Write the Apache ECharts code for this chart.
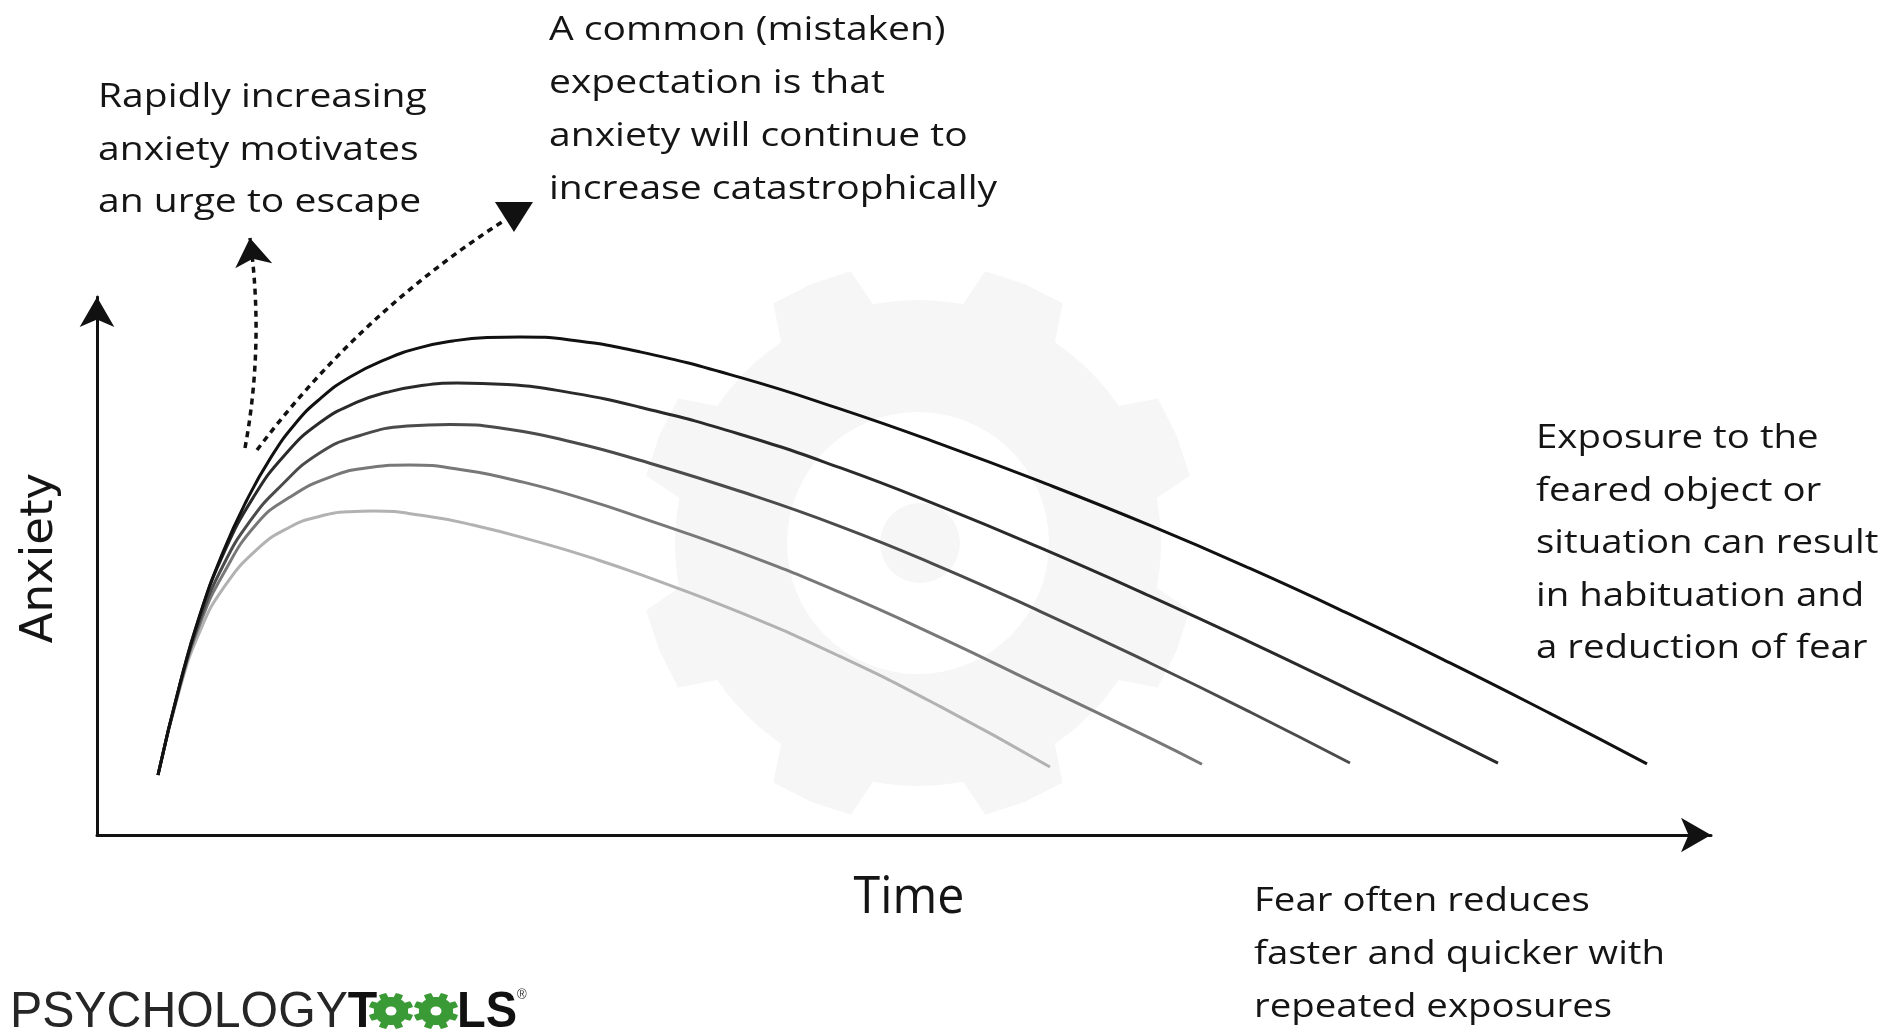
<!DOCTYPE html>
<html>
<head>
<meta charset="utf-8">
<script src="https://cdn.jsdelivr.net/npm/echarts@6/dist/echarts.min.js"></script>
<style>
html,body{margin:0;padding:0;background:#ffffff;}
#chart{width:1903px;height:1034px;}
</style>
</head>
<body>
<div id="chart"></div>
<script>
// ---- Data: [time, anxiety] (arbitrary units) ----
const exposure1 = [[3.8125,11.43],[5.1875,28.82],[6.4375,41.96],[7.875,53.89],[9.375,63.85],[10.8125,71.64],[12.375,78.30],[13.9375,83.07],[15.8125,87.24],[18.125,90.69],[20.1875,92.84],[22.25,94.10],[24.375,94.74],[26.4375,94.86],[29.5625,94.29],[33.9375,92.02],[40.1875,87.16],[46.4375,81.16],[52.6875,74.50],[58.9375,67.35],[65.8125,58.97],[72.0625,50.78],[78.3125,42.02],[84.5625,32.78],[90.8125,23.16],[96.875,13.56]];
const exposure2 = [[3.8125,11.43],[5.1875,28.82],[6.4375,41.96],[7.875,53.35],[9.75,64.21],[11.75,72.44],[13.9375,78.57],[16.25,82.44],[18.125,84.32],[20.1875,85.58],[22.5,86.08],[25.625,85.79],[29.75,84.17],[33.9375,81.49],[40.1875,76.34],[46.4375,69.96],[52.6875,62.63],[58.9375,54.72],[65.8125,45.50],[72.0625,36.74],[78.3125,27.60],[84.5625,18.27],[87.5625,13.70]];
const exposure3 = [[3.8125,11.43],[5.1875,28.61],[6.4375,40.99],[7.875,51.29],[9.5625,59.77],[11.4375,66.34],[13.9375,72.82],[16.4375,76.10],[19.375,77.89],[22.0625,78.21],[25.625,77.33],[29.75,74.82],[33.9375,71.37],[40.1875,65.47],[46.4375,58.80],[52.6875,51.09],[58.9375,42.61],[65.8125,32.76],[72.0625,23.43],[78.3125,13.71]];
const exposure4 = [[3.8125,11.43],[5.1875,28.40],[6.4375,40.21],[7.875,49.63],[10.0,59.34],[12.0625,64.37],[14.5625,68.18],[17.0625,70.01],[19.5625,70.47],[22.6875,69.61],[26.625,67.21],[30.8125,63.64],[33.9375,60.49],[40.1875,53.83],[46.4375,46.21],[52.6875,37.64],[58.9375,28.49],[65.8125,18.44],[69.0625,13.48]];
const exposure5 = [[3.8125,11.43],[5.1875,27.98],[6.4375,38.84],[7.875,46.94],[10.0,54.39],[12.0625,58.66],[13.9375,60.72],[15.8125,61.58],[17.25,61.71],[20.375,60.85],[23.5,59.04],[27.6875,55.73],[30.8125,52.87],[33.9375,49.63],[40.1875,42.39],[46.4375,34.01],[52.6875,24.49],[59.5625,12.96]];
const exposureSeries = [exposure1, exposure2, exposure3, exposure4, exposure5];
const exposureColors = ['#111111', '#2a2a2a', '#4b4b4b', '#787878', '#b2b2b2'];
const timeMax = 100.875;
const anxietyMax = 102.476;

// dashed annotation arrows (start / end in data units)
const escapeArrow = [[9.25, 73.71], [9.56, 113.71]];
const catastropheArrow = [[10.0, 73.33], [25.5, 117.14]];
const catastropheHead = [[26.06, 117.71]];

// text blocks
const escapeText = ['Rapidly increasing', 'anxiety motivates', 'an urge to escape'];
const mistakenText = ['A common (mistaken)', 'expectation is that', 'anxiety will continue to', 'increase catastrophically'];
const exposureText = ['Exposure to the', 'feared object or', 'situation can result', 'in habituation and', 'a reduction of fear'];
const repeatText = ['Fear often reduces', 'faster and quicker with', 'repeated exposures'];
const xAxisName = 'Time';
const yAxisName = 'Anxiety';

// ---- gear geometry (decoration) ----
function gearPoints(cx, cy, ro, rr, teeth, hwRoot, hwTip) {
  const pts = [];
  const step = 2 * Math.PI / teeth;
  for (let k = 0; k < teeth; k++) {
    const c = -Math.PI / 2 + step / 2 + k * step;
    pts.push([cx + rr * Math.cos(c - hwRoot), cy + rr * Math.sin(c - hwRoot)]);
    pts.push([cx + ro * Math.cos(c - hwTip), cy + ro * Math.sin(c - hwTip)]);
    pts.push([cx + ro * Math.cos(c), cy + ro * Math.sin(c)]);
    pts.push([cx + ro * Math.cos(c + hwTip), cy + ro * Math.sin(c + hwTip)]);
    pts.push([cx + rr * Math.cos(c + hwRoot), cy + rr * Math.sin(c + hwRoot)]);
    for (let j = 1; j <= 5; j++) {
      const a = c + hwRoot + j * (step - 2 * hwRoot) / 6;
      pts.push([cx + rr * Math.cos(a), cy + rr * Math.sin(a)]);
    }
  }
  return pts;
}

const textFont = '500 32px "Open Sans"';
const textColor = '#151515';
function block(lines, x, yTop, lh, sx) {
  return {
    type: 'text', x: x, y: yTop, scaleX: sx, z: 20, silent: true,
    style: { text: lines.join('\n'), x: 0, y: 0, font: textFont, fill: textColor,
             lineHeight: lh, align: 'left', verticalAlign: 'top' }
  };
}
function logoGear(cx) {
  return [
    { type: 'polygon', x: cx, y: 1011, scaleX: 1.22, z: 20, silent: true,
      shape: { points: gearPoints(0, 0, 18.5, 14, 8, 0.24, 0.17) }, style: { fill: '#3a9a36' } },
    { type: 'circle', x: cx, y: 1011, scaleX: 1.22, z: 21, silent: true,
      shape: { cx: 0, cy: 0, r: 4.5 }, style: { fill: '#ffffff' } }
  ];
}

const chart = echarts.init(document.getElementById('chart'), null, { renderer: 'canvas' });

const series = [];
for (let i = exposureSeries.length - 1; i >= 0; i--) {
  series.push({
    type: 'line', data: exposureSeries[i], showSymbol: false, smooth: 0.5,
    z: 5 + (5 - i), silent: true,
    lineStyle: { color: exposureColors[i], width: 3 }
  });
}
series.push({
  type: 'lines', coordinateSystem: 'cartesian2d', clip: false, z: 12, silent: true,
  symbol: ['none', 'arrow'], symbolSize: 28,
  lineStyle: { color: '#111', width: 3.5, type: [6, 5], curveness: -0.08, opacity: 1 },
  data: [{ coords: escapeArrow }]
});
series.push({
  type: 'lines', coordinateSystem: 'cartesian2d', clip: false, z: 12, silent: true,
  symbol: 'none',
  lineStyle: { color: '#111', width: 3.5, type: [6, 5], curveness: 0.09, opacity: 1 },
  data: [{ coords: catastropheArrow }]
});
series.push({
  type: 'scatter', data: catastropheHead, clip: false, z: 12, silent: true,
  symbol: 'triangle', symbolRotate: 180, symbolSize: [38, 30],
  itemStyle: { color: '#111', opacity: 1 }
});

const option = {
  backgroundColor: '#ffffff',
  animation: false,
  grid: { left: 97, top: 297, width: 1614, height: 538 },
  xAxis: {
    type: 'value', min: 0, max: timeMax,
    axisLine: { show: true, symbol: ['none', 'arrow'], symbolSize: [26, 30], lineStyle: { color: '#111', width: 3 } },
    axisTick: { show: false }, axisLabel: { show: false }, splitLine: { show: false }
  },
  yAxis: {
    type: 'value', min: 0, max: anxietyMax,
    axisLine: { show: true, symbol: ['none', 'arrow'], symbolSize: [26, 30], lineStyle: { color: '#111', width: 3 } },
    axisTick: { show: false }, axisLabel: { show: false }, splitLine: { show: false }
  },
  graphic: [
    { type: 'polygon', z: 0, silent: true, shape: { points: gearPoints(918, 543, 280, 243, 8, 0.206, 0.15) }, style: { fill: '#f6f6f6' } },
    { type: 'circle', z: 0, silent: true, shape: { cx: 918, cy: 543, r: 131 }, style: { fill: '#ffffff' } },
    { type: 'circle', z: 0, silent: true, shape: { cx: 920, cy: 543, r: 40 }, style: { fill: '#f6f6f6' } },
    block(escapeText, 98, 71.75, 52.5, 1.22),
    block(mistakenText, 549, 4.5, 53, 1.22),
    block(exposureText, 1536, 412.75, 52.5, 1.2),
    block(repeatText, 1254, 875.5, 53, 1.2),
    { type: 'text', x: 909, y: 898, scaleX: 0.93, z: 20, silent: true,
      style: { text: xAxisName, x: 0, y: 0, font: '52px "Open Sans"', fill: textColor, align: 'center', verticalAlign: 'middle' } },
    { type: 'text', x: 40, y: 558, rotation: Math.PI / 2, z: 20, silent: true,
      style: { text: yAxisName, x: 0, y: 0, font: '45px "DejaVu Sans"', fill: textColor, align: 'center', verticalAlign: 'middle' } },
    { type: 'text', x: 10, y: 1013, scaleX: 0.965, z: 20, silent: true,
      style: {
        text: '{p|PSYCHOLOGY}{b|T}', x: 0, y: 0, verticalAlign: 'middle', align: 'left',
        rich: {
          p: { fontFamily: 'Liberation Sans', fontSize: 50, fontWeight: 'normal', fill: '#262626' },
          b: { fontFamily: 'Liberation Sans', fontSize: 50, fontWeight: 'bold', fill: '#111111' }
        }
      } },
    ...logoGear(391),
    ...logoGear(436),
    { type: 'text', x: 457, y: 1013, scaleX: 0.94, z: 20, silent: true,
      style: {
        text: '{b|LS}{r|®}', x: 0, y: 0, verticalAlign: 'middle', align: 'left',
        rich: {
          b: { fontFamily: 'Liberation Sans', fontSize: 50, fontWeight: 'bold', fill: '#111111' },
          r: { fontFamily: 'Liberation Sans', fontSize: 14, fill: '#333', verticalAlign: 'top' }
        }
      } }
  ],
  series: series
};
chart.setOption(option);
</script>
</body>
</html>
